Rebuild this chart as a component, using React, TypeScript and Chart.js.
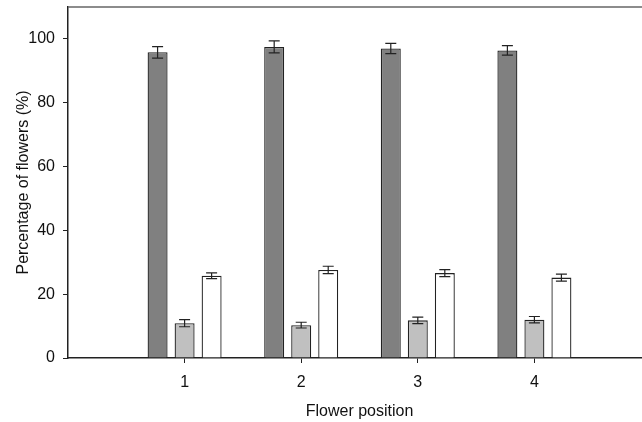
import React, { useEffect, useRef } from "react";
import { Chart, registerables } from "chart.js";

Chart.register(...registerables);

const positions = [1, 2, 3, 4];
const seriesA = [95.8, 97.5, 97.0, 96.4];
const errA = [1.8, 1.9, 1.6, 1.5];
const seriesB = [10.9, 10.3, 11.8, 12.0];
const errB = [1.1, 0.9, 1.0, 1.0];
const seriesC = [25.8, 27.6, 26.6, 25.2];
const errC = [0.9, 1.15, 1.1, 1.1];
const yTicks = [0, 20, 40, 60, 80, 100];

const errors = [errA, errB, errC];

const FONT = "'Liberation Sans', Arial, sans-serif";

const errorBarPlugin = {
  id: "errorBars",
  afterDatasetsDraw(chart: any) {
    const ctx = chart.ctx;
    const y = chart.scales.y;
    const area = chart.chartArea;
    ctx.save();
    // top frame line
    ctx.strokeStyle = "#666";
    ctx.lineWidth = 1.5;
    ctx.beginPath();
    ctx.moveTo(area.left, area.top);
    ctx.lineTo(area.right, area.top);
    ctx.stroke();

    ctx.strokeStyle = "#222";
    ctx.lineWidth = 1.2;
    chart.data.datasets.forEach((ds: any, di: number) => {
      const meta = chart.getDatasetMeta(di);
      meta.data.forEach((bar: any, i: number) => {
        const v = ds.data[i].y;
        const e = errors[di][i];
        const x = bar.x;
        const yt = y.getPixelForValue(v + e);
        const yb = y.getPixelForValue(v - e);
        const cw = 5.5;
        ctx.beginPath();
        ctx.moveTo(x, yt);
        ctx.lineTo(x, yb);
        ctx.moveTo(x - cw, yt);
        ctx.lineTo(x + cw, yt);
        ctx.moveTo(x - cw, yb);
        ctx.lineTo(x + cw, yb);
        ctx.stroke();
      });
    });
    ctx.restore();
  },
};

export default function App() {
  const ref = useRef<HTMLCanvasElement | null>(null);

  useEffect(() => {
    if (!ref.current) return;
    const mk = (arr: number[]) => arr.map((v, i) => ({ x: positions[i], y: v }));
    const common = {
      borderColor: "#222",
      borderWidth: 1.3,
      categoryPercentage: 0.695,
      barPercentage: 0.74,
    };
    const chart = new Chart(ref.current, {
      type: "bar",
      data: {
        datasets: [
          { ...common, label: "A", data: mk(seriesA), backgroundColor: "#808080" },
          { ...common, label: "B", data: mk(seriesB), backgroundColor: "#c0c0c0" },
          { ...common, label: "C", data: mk(seriesC), backgroundColor: "#ffffff" },
        ] as any,
      },
      options: {
        animation: false,
        responsive: false,
        devicePixelRatio: 1,
        layout: { padding: { left: 0, right: 29, top: 7, bottom: 0 } },
        plugins: { legend: { display: false }, tooltip: { enabled: false } },
        scales: {
          x: {
            type: "linear",
            min: 0,
            max: 5,
            offset: false,
            afterBuildTicks: (scale: any) => {
              scale.ticks = positions.map((p) => ({ value: p }));
            },
            afterFit: (scale: any) => {
              scale.height = 64;
              scale.paddingLeft = 0;
              scale.paddingRight = 0;
            },
            ticks: {
              stepSize: 1,
              color: "#111",
              font: { family: FONT, size: 16 },
              padding: 10,
              maxRotation: 0,
            },
            grid: {
              display: true,
              offset: false,
              drawOnChartArea: false,
              drawTicks: true,
              tickLength: 5,
              color: "#222",
            },
            border: { display: true, color: "#222", width: 1.5 },
            title: {
              display: true,
              text: "Flower position",
              color: "#111",
              font: { family: FONT, size: 16 },
              padding: { top: 0, bottom: 1 },
            },
          },
          y: {
            min: 0,
            max: 110,
            afterBuildTicks: (scale: any) => {
              scale.ticks = yTicks.map((v) => ({ value: v }));
            },
            afterFit: (scale: any) => {
              scale.width = 68;
              scale.paddingTop = 0;
              scale.paddingBottom = 0;
            },
            ticks: {
              color: "#111",
              font: { family: FONT, size: 16 },
              padding: 8,
            },
            grid: {
              display: true,
              drawOnChartArea: false,
              drawTicks: true,
              tickLength: 5,
              color: "#222",
            },
            border: { display: true, color: "#222", width: 1.5 },
            title: {
              display: true,
              text: "Percentage of flowers (%)",
              color: "#111",
              font: { family: FONT, size: 16 },
              padding: { top: 14, bottom: 0 },
            },
          },
        },
      } as any,
      plugins: [errorBarPlugin],
    });
    return () => chart.destroy();
  }, []);

  return (
    <div
      style={{
        position: "absolute",
        left: 0,
        top: 0,
        width: 642,
        height: 422,
        overflow: "hidden",
        background: "#fff",
      }}
    >
      <canvas ref={ref} width={680} height={422} style={{ width: 680, height: 422, display: "block" }} />
    </div>
  );
}
